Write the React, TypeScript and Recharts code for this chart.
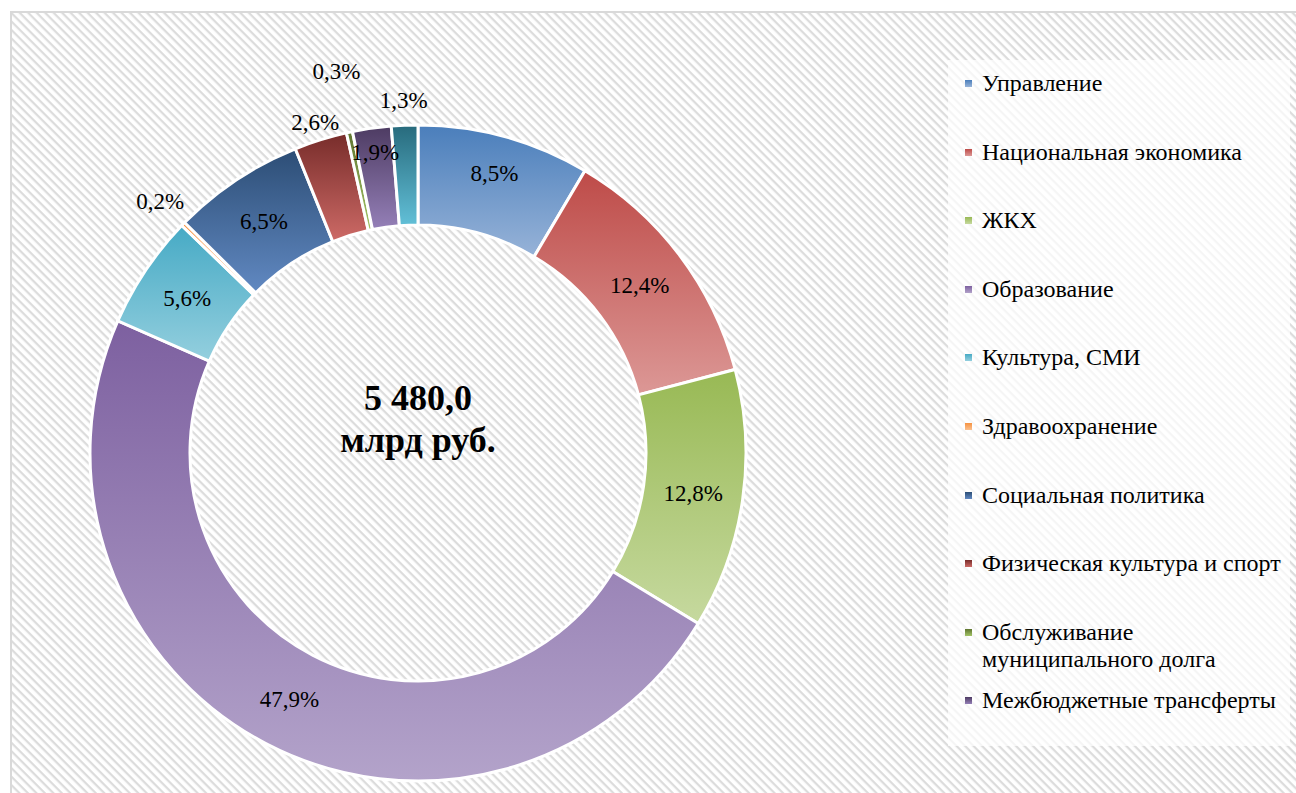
import { PieChart, Pie, Cell, Legend } from 'recharts';

const categories = [
  'Управление',
  'Национальная экономика',
  'ЖКХ',
  'Образование',
  'Культура, СМИ',
  'Здравоохранение',
  'Социальная политика',
  'Физическая культура и спорт',
  'Обслуживание муниципального долга',
  'Межбюджетные трансферты',
  'Прочие расходы',
];
const shares = [8.5, 12.4, 12.8, 47.9, 5.6, 0.2, 6.5, 2.6, 0.3, 1.9, 1.3];
const totalLines = ['5 480,0', 'млрд руб.'];
// only the first ten categories are listed in the legend
const legendCount = 10;

const topColors = ['#4A7EBB', '#BE4B48', '#98B954', '#7D60A0', '#46AAC5', '#F69240', '#2C4D75', '#772C2A', '#5F7530', '#4D3B62', '#276A7C'];
const bottomColors = ['#97B3D8', '#DC9896', '#C6D99F', '#B3A3CA', '#94CFDE', '#FBC08F', '#6189C2', '#CD6A66', '#A3C466', '#9580B8', '#62C0D8'];

// extra radius for labels that sit off the ring's middle
const labelShift: Record<number, number> = { 0: 12, 5: 82, 7: 68, 8: 112, 9: 26, 10: 75 };

const serif = '"Liberation Serif", "Times New Roman", serif';
const fmt = (v: number) => `${v.toFixed(1).replace('.', ',')}%`;

const chartData = categories.map((name, i) => ({ name, value: shares[i] }));

const renderLabel = (props: any) => {
  const { cx, cy, midAngle, innerRadius, outerRadius, index } = props;
  const r = (innerRadius + outerRadius) / 2 + (labelShift[index] ?? 0);
  const a = (-midAngle * Math.PI) / 180;
  return (
    <text
      x={cx + r * Math.cos(a)}
      y={cy + r * Math.sin(a)}
      textAnchor="middle"
      dominantBaseline="central"
      fill="#000"
      fontSize={23}
      fontFamily={serif}
    >
      {fmt(shares[index])}
    </text>
  );
};

const LegendList = () => (
  <div style={{ position: 'relative', width: '100%', height: '100%', fontFamily: serif }}>
    {categories.slice(0, legendCount).map((name, i) => (
      <div
        key={name}
        style={{
          position: 'absolute',
          left: 17,
          top: 10 + i * 68.6,
          width: 322,
          display: 'flex',
          alignItems: 'flex-start',
        }}
      >
        <span
          style={{
            flex: '0 0 7px',
            height: 7,
            marginTop: 10,
            marginRight: 10,
            background: `linear-gradient(${topColors[i]}, ${bottomColors[i]})`,
          }}
        />
        <span style={{ fontSize: 24, lineHeight: '27px', color: '#000', maxWidth: 308 }}>{name}</span>
      </div>
    ))}
  </div>
);

export default function App() {
  return (
    <div style={{ position: 'absolute', left: 0, top: 0, width: 1296, height: 793, background: '#fff' }}>
      <svg width={1296} height={793} style={{ position: 'absolute', left: 0, top: 0 }}>
        <defs>
          <pattern id="hatch" width={6} height={6} patternUnits="userSpaceOnUse" patternTransform="rotate(45)">
            <rect width={6} height={6} fill="#fff" />
            <line x1={0} y1={0} x2={6} y2={0} stroke="#dcdcdc" strokeWidth={4.5} />
          </pattern>
        </defs>
        <rect x={11} y={12} width={1300} height={800} fill="url(#hatch)" stroke="#d9d9d9" strokeWidth={2} />
      </svg>
      <div style={{ position: 'absolute', left: 0, top: 0 }}>
        <PieChart width={1296} height={793} margin={{ top: 0, right: 0, bottom: 0, left: 0 }}>
          <defs>
            {topColors.map((c, i) => (
              <linearGradient key={i} id={`slice${i}`} x1="0" y1="0" x2="0" y2="1">
                <stop offset="0%" stopColor={c} />
                <stop offset="100%" stopColor={bottomColors[i]} />
              </linearGradient>
            ))}
          </defs>
          <Pie
            data={chartData}
            dataKey="value"
            nameKey="name"
            cx={418}
            cy={453}
            innerRadius={228}
            outerRadius={328}
            startAngle={90}
            endAngle={-270}
            stroke="#fff"
            strokeWidth={3}
            label={renderLabel}
            labelLine={false}
            isAnimationActive={false}
          >
            {chartData.map((d, i) => (
              <Cell key={d.name} fill={`url(#slice${i})`} stroke="#fff" strokeWidth={3} />
            ))}
          </Pie>
          <Legend
            layout="vertical"
            align="right"
            verticalAlign="top"
            content={() => <LegendList />}
            wrapperStyle={{ left: 948, top: 60, width: 342, height: 686, background: 'rgba(255,255,255,0.72)' }}
          />
        </PieChart>
      </div>
      <svg width={1296} height={793} style={{ position: 'absolute', left: 0, top: 0, pointerEvents: 'none' }}>
        <text textAnchor="middle" fontFamily={serif} fontWeight="bold" fontSize={36} fill="#000">
          <tspan x={418} y={398} dominantBaseline="central">{totalLines[0]}</tspan>
          <tspan x={418} y={440} dominantBaseline="central">{totalLines[1]}</tspan>
        </text>
      </svg>
    </div>
  );
}
